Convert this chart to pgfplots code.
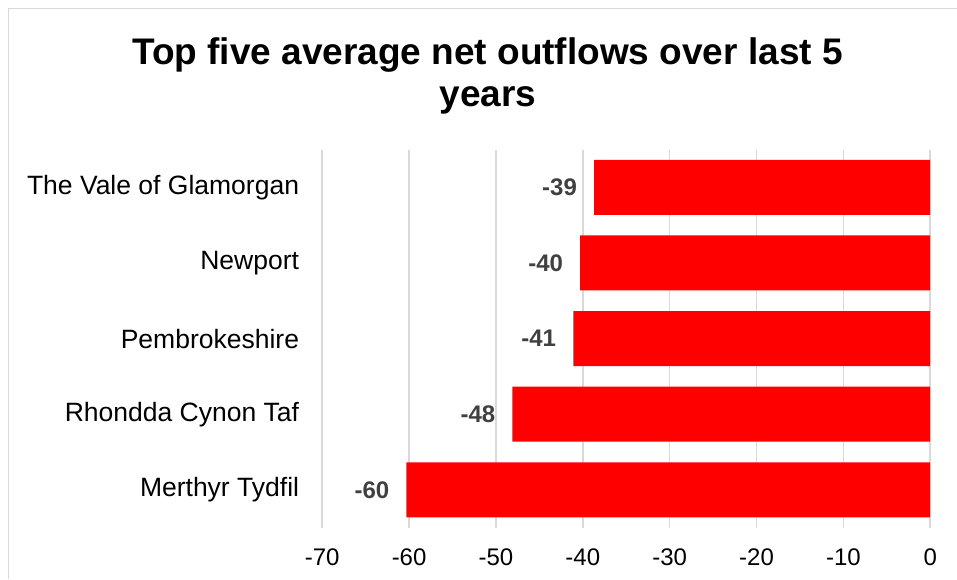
\documentclass[border=0pt]{standalone}
\usepackage{pgfplots}
\pgfplotsset{compat=1.18}
\usepackage{fontspec}
\setmainfont{Liberation Sans}
\definecolor{gridgray}{HTML}{D9D9D9}
\definecolor{labgray}{HTML}{404040}
\definecolor{barred}{HTML}{FF0000}
\begin{document}
\begin{tikzpicture}[x=1pt,y=1pt]
\useasboundingbox (0,0) rectangle (957,579);
\draw[gridgray, line width=1.5pt] (8.5,0) -- (8.5,570.5) -- (957,570.5);
\node[anchor=base, font=\fontsize{37}{42}\selectfont\bfseries] at (487.5,514) {Top five average net outflows over last 5};
\node[anchor=base, font=\fontsize{37}{42}\selectfont\bfseries] at (488,472) {years};
\begin{axis}[
  at={(371,68)}, anchor=south west,
  scale only axis, width=608pt, height=378pt,
  xbar, bar width=55pt,
  xmin=-70, xmax=0, ymin=-0.5, ymax=4.5,
  xtick={-70,-60,...,0},
  ytick={0,1,2,3,4},
  yticklabels={Merthyr Tydfil, Rhondda Cynon Taf, Pembrokeshire, Newport, The Vale of Glamorgan},
  xmajorgrids, major grid style={gridgray, line width=1.5pt},
  axis line style={draw=none},
  major tick length=0pt,
  /pgf/number format/assume math mode=true,
  xticklabel style={font=\fontsize{24}{24}\selectfont, anchor=north, inner sep=0pt, yshift=-21pt},
  yticklabel style={font=\fontsize{26.5}{26.5}\selectfont, anchor=east, inner sep=0pt, xshift=-23pt},
  point meta=x,
  nodes near coords={\pgfmathprintnumber[fixed,precision=0,assume math mode=true]{\pgfplotspointmeta}},
  every node near coord/.append style={anchor=east, inner sep=0pt, xshift=-17pt, font=\fontsize{24}{24}\selectfont\bfseries, text=labgray},
]
\addplot[fill=barred, draw=none] coordinates {
  (-60.3,0)
  (-48.1,1)
  (-41.1,2)
  (-40.3,3)
  (-38.7,4)
};
\end{axis}
\end{tikzpicture}
\end{document}
